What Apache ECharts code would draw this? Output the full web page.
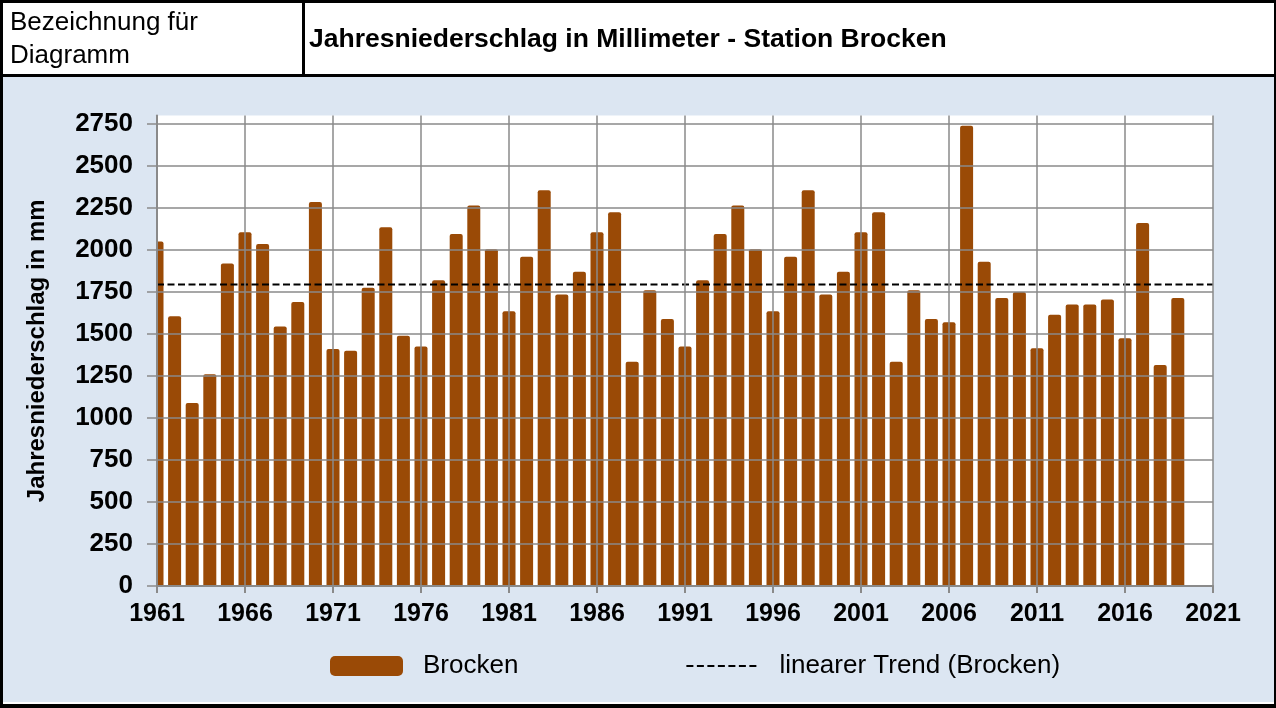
<!DOCTYPE html>
<html>
<head>
<meta charset="utf-8">
<script src="https://cdn.jsdelivr.net/npm/echarts@6/dist/echarts.min.js"></script>
<style>
html,body{margin:0;padding:0;background:#dce6f2;}
#c{width:1276px;height:708px;}
</style>
</head>
<body>
<div id="c"></div>
<script>
const years = [1961,1962,1963,1964,1965,1966,1967,1968,1969,1970,
  1971,1972,1973,1974,1975,1976,1977,1978,1979,1980,
  1981,1982,1983,1984,1985,1986,1987,1988,1989,1990,
  1991,1992,1993,1994,1995,1996,1997,1998,1999,2000,
  2001,2002,2003,2004,2005,2006,2007,2008,2009,2010,
  2011,2012,2013,2014,2015,2016,2017,2018,2019];
const precipitation = [2050,1605,1090,1260,1920,2105,2035,1545,1690,2285,
  1410,1400,1775,2135,1490,1425,1820,2095,2265,2005,
  1635,1960,2355,1735,1870,2105,2225,1335,1760,1590,
  1425,1820,2095,2265,2005,1635,1960,2355,1735,1870,
  2105,2225,1335,1760,1590,1570,2740,1930,1715,1750,
  1415,1615,1675,1675,1705,1475,2160,1315,1715];
const trendYears = [1961, 2021];
const trendValues = [1795, 1795];
const yTicks = [0,250,500,750,1000,1250,1500,1750,2000,2250,2500,2750];
const baseYear = 1961;
const seriesName = 'Brocken';
const trendName = 'linearer Trend (Brocken)';
const titleText = 'Jahresniederschlag in Millimeter - Station Brocken';
const labelText = 'Bezeichnung für\nDiagramm';
const yName = 'Jahresniederschlag in mm';

const FONT = '"Liberation Sans", Arial, sans-serif';
const chart = echarts.init(document.getElementById('c'), null, {renderer: 'canvas'});

const barData = years.map((y, i) => [y - baseYear, precipitation[i]]);
const trendData = trendYears.map((y, i) => [y - baseYear, trendValues[i]]);
const gridColor = '#8a8a8a';
const bg = '#dce6f2';
const splitColors = yTicks.map(() => gridColor).concat(['rgba(0,0,0,0)']);

chart.setOption({
  backgroundColor: bg,
  animation: false,
  textStyle: {fontFamily: FONT},
  grid: {left: 157, right: 63, top: 115.6, bottom: 122, show: true, backgroundColor: '#ffffff', borderWidth: 0, containLabel: false},
  xAxis: {
    type: 'value', min: 0, max: 60, interval: 5, z: 10,
    axisLine: {show: true, onZero: false, lineStyle: {color: gridColor, width: 2}},
    axisTick: {show: true, length: 7, lineStyle: {color: gridColor, width: 2}},
    axisLabel: {margin: 16, color: '#000', fontSize: 25, fontWeight: 'bold', fontFamily: FONT,
      formatter: v => String(baseYear + v)},
    splitLine: {show: true, lineStyle: {color: gridColor, width: 1.5}}
  },
  yAxis: {
    type: 'value', min: 0, max: 2800, interval: 250, z: 10,
    name: yName, nameLocation: 'middle', nameGap: 108, nameRotate: 90,
    nameTextStyle: {color: '#000', fontSize: 24, fontWeight: 'bold', fontFamily: FONT},
    axisLine: {show: true, lineStyle: {color: gridColor, width: 2}},
    axisTick: {show: true, length: 10, customValues: yTicks, lineStyle: {color: gridColor, width: 1.5}},
    axisLabel: {margin: 24, color: '#000', fontSize: 26, fontWeight: 'bold', fontFamily: FONT,
      customValues: yTicks, formatter: v => String(v)},
    splitLine: {show: true, lineStyle: {color: splitColors, width: 1.5}}
  },
  legend: {
    left: 325, top: 648, itemGap: 167, itemWidth: 73, itemHeight: 20,
    textStyle: {color: '#000', fontSize: 26, fontFamily: FONT, padding: [0, 0, 0, 15]},
    data: [
      {name: seriesName, icon: 'roundRect'},
      {name: trendName, itemStyle: {opacity: 0}}
    ]
  },
  series: [
    {
      name: seriesName, type: 'bar', data: barData, barWidth: 13,
      itemStyle: {color: '#9a4a06', borderRadius: [2, 2, 0, 0]},
      clip: true
    },
    {
      name: trendName, type: 'line', data: trendData, symbol: 'none', showSymbol: false,
      lineStyle: {color: '#000', width: 2, type: [7, 3.5]},
      itemStyle: {color: '#000'}
    }
  ],
  graphic: [
    {type: 'rect', shape: {x: 138, y: 110, width: 18, height: 477}, style: {fill: bg}, z: 5},
    {type: 'rect', shape: {x: 0, y: 0, width: 1276, height: 76}, style: {fill: '#ffffff'}, z: 100},
    {type: 'rect', shape: {x: 0, y: 74, width: 1276, height: 3}, style: {fill: '#000'}, z: 101},
    {type: 'rect', shape: {x: 302, y: 0, width: 3, height: 76}, style: {fill: '#000'}, z: 101},
    {type: 'rect', shape: {x: 0, y: 0, width: 1276, height: 3}, style: {fill: '#000'}, z: 101},
    {type: 'rect', shape: {x: 0, y: 0, width: 3, height: 708}, style: {fill: '#000'}, z: 101},
    {type: 'rect', shape: {x: 1274, y: 0, width: 2, height: 708}, style: {fill: '#000'}, z: 101},
    {type: 'rect', shape: {x: 3, y: 702, width: 1271, height: 2}, style: {fill: '#fff'}, z: 101},
    {type: 'rect', shape: {x: 0, y: 704, width: 1276, height: 4}, style: {fill: '#000'}, z: 101},
    {type: 'text', left: 10, top: 6, z: 102,
      style: {text: labelText, fill: '#000', font: '26px ' + FONT, lineHeight: 33}},
    {type: 'text', x: 309, y: 40, z: 102,
      style: {text: titleText, fill: '#000', font: 'bold 26.5px ' + FONT, verticalAlign: 'middle'}}
  ]
});
</script>
</body>
</html>
